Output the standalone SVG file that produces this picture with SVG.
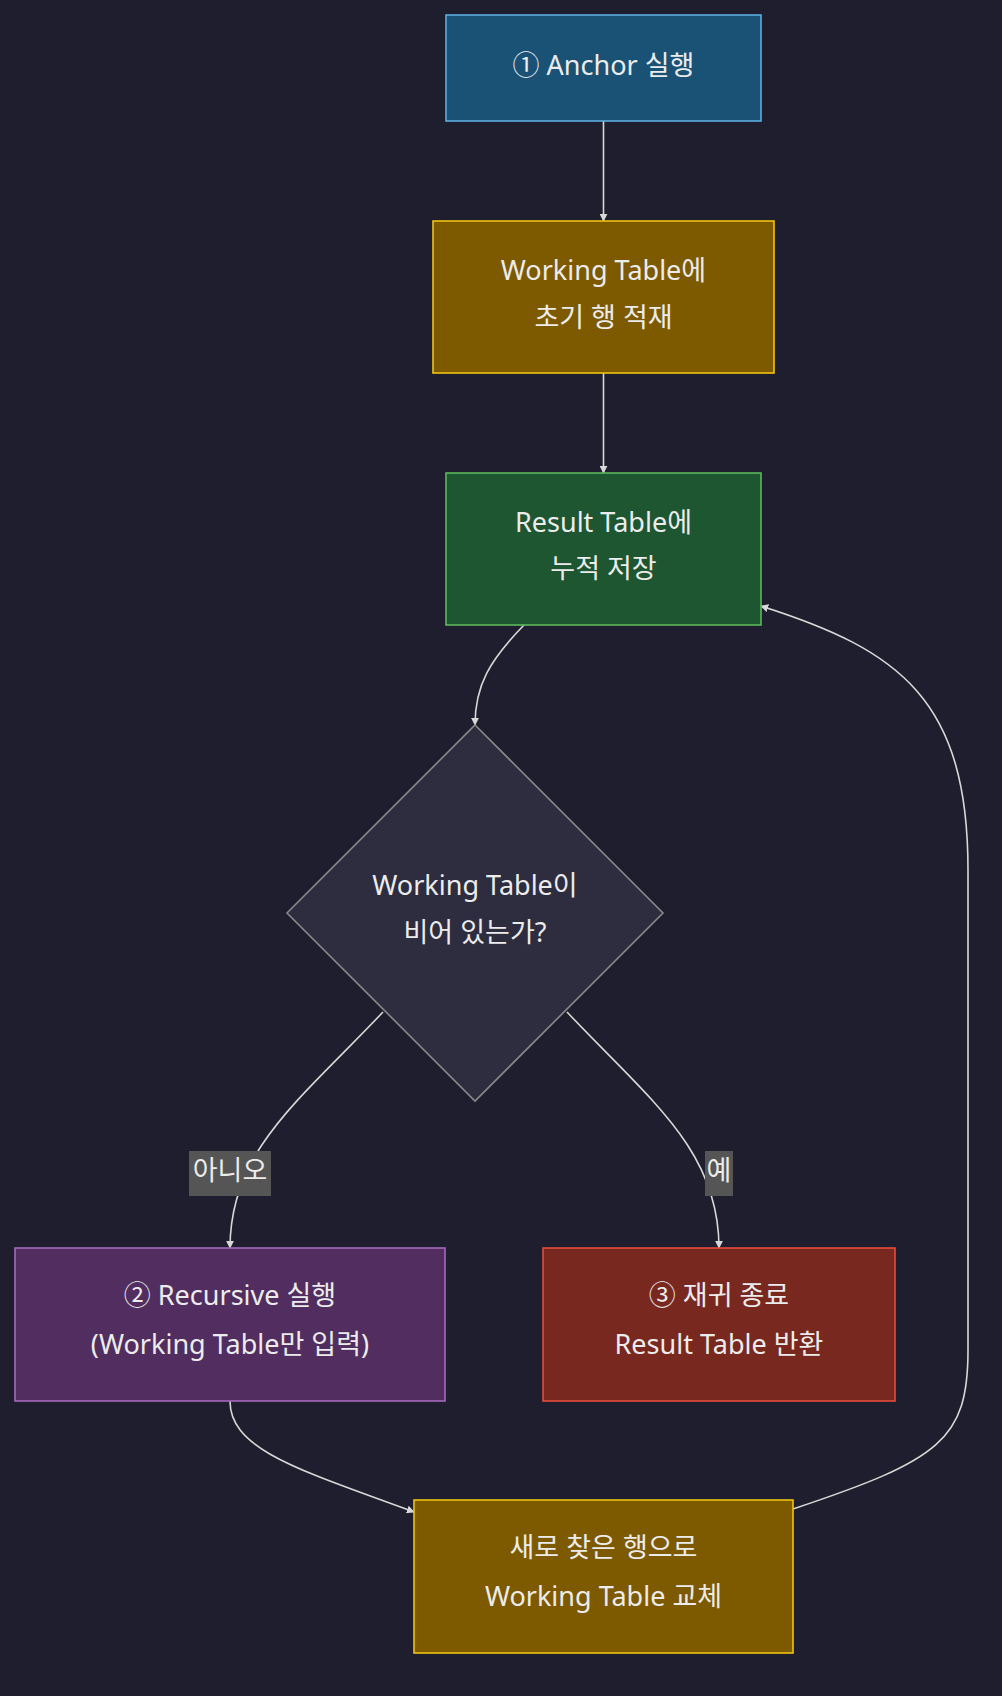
<svg xmlns="http://www.w3.org/2000/svg" width="1002" height="1696" viewBox="0 0 1002 1696">
<defs>
<marker id="ah" viewBox="0 0 10 10" refX="9" refY="5" markerWidth="8" markerHeight="8" markerUnits="userSpaceOnUse" orient="auto"><path d="M0,0 L10,5 L0,10 z" fill="#d8d8d8"/></marker>
<style>
text{font-family:"Noto Sans","Noto Sans CJK KR",sans-serif;font-size:27px;fill:#ececec;text-anchor:middle;dominant-baseline:middle}
.e{fill:none;stroke:#d8d8d8;stroke-width:1.6;marker-end:url(#ah)}
.lb{fill:#555555}
</style>
</defs>
<rect width="1002" height="1696" fill="#1e1e2e"/>
<g id="connectors">
<path class="e" d="M603.5,121 L603.5,221"/>
<path class="e" d="M603.5,373 L603.5,473"/>
<path class="e" d="M524,625 C490,660 475,685 475,725"/>
<path class="e" d="M383,1012 C300,1100 230,1150 230,1248"/>
<path class="e" d="M567,1012 C650,1100 719,1150 719,1248"/>
<path class="e" d="M230,1401 C230,1450 300,1470 414,1512"/>
<path class="e" d="M793,1509 C940,1460 968,1440 968,1350 L968,870 C968,700 900,650 761,606"/>
<rect class="lb" x="189" y="1151" width="82" height="45"/>
<text x="230" y="1173">아니오</text>
<rect class="lb" x="705" y="1151" width="28" height="45"/>
<text x="719" y="1173">예</text>
</g>
<g id="anchor"><rect x="446" y="15" width="315" height="106" fill="#1a5276" stroke="#5dade2" stroke-width="1.6"/><text x="603.5" y="68">① Anchor 실행</text></g>
<g id="wt"><rect x="433" y="221" width="341" height="152" fill="#7d5a00" stroke="#f1c40f" stroke-width="1.6"/><text x="603.5" y="273">Working Table에</text><text x="603.5" y="320">초기 행 적재</text></g>
<g id="result"><rect x="446" y="473" width="315" height="152" fill="#1e5631" stroke="#5cb85c" stroke-width="1.6"/><text x="603.5" y="525">Result Table에</text><text x="603.5" y="571">누적 저장</text></g>
<g id="decision"><polygon points="475,725 663,913 475,1101 287,913" fill="#2d2d3f" stroke="#888888" stroke-width="1.6"/><text x="475" y="888">Working Table이</text><text x="475" y="935">비어 있는가?</text></g>
<g id="recursive"><rect x="15" y="1248" width="430" height="153" fill="#512e5f" stroke="#a569bd" stroke-width="1.6"/><text x="230" y="1298">② Recursive 실행</text><text x="230" y="1347">(Working Table만 입력)</text></g>
<g id="end"><rect x="543" y="1248" width="352" height="153" fill="#78281f" stroke="#e74c3c" stroke-width="1.6"/><text x="719" y="1298">③ 재귀 종료</text><text x="719" y="1347">Result Table 반환</text></g>
<g id="replace"><rect x="414" y="1500" width="379" height="153" fill="#7d5a00" stroke="#f1c40f" stroke-width="1.6"/><text x="603.5" y="1550">새로 찾은 행으로</text><text x="603.5" y="1599">Working Table 교체</text></g>
</svg>
